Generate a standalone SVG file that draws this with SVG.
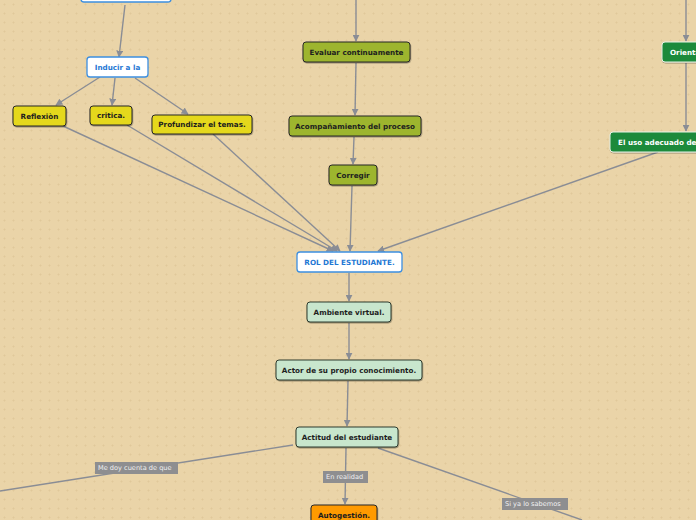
<svg xmlns="http://www.w3.org/2000/svg" width="696" height="520" viewBox="0 0 696 520">
<defs>
<pattern id="dots" width="9" height="9" patternUnits="userSpaceOnUse">
<rect width="9" height="9" fill="#ead4a8"/>
<rect x="4" y="3.5" width="1" height="2" fill="#e0c89a"/>
<rect x="3.5" y="4" width="2" height="1" fill="#e0c89a"/>
</pattern>
<marker id="arr" viewBox="0 0 10 10" refX="9" refY="5" markerWidth="7" markerHeight="7" markerUnits="userSpaceOnUse" orient="auto">
<path d="M0,0 L10,5 L0,10 z" fill="#8a8d95"/>
</marker>
<filter id="sh" x="-10%" y="-20%" width="120%" height="150%">
<feDropShadow dx="0.5" dy="1" stdDeviation="0.6" flood-color="#000" flood-opacity="0.35"/>
</filter>
</defs>
<style>
.c{fill:none;stroke:#8a8d95;stroke-width:1.4;marker-end:url(#arr)}
.cn{fill:none;stroke:#8a8d95;stroke-width:1.4}
.t{font-family:"DejaVu Sans",Verdana,sans-serif;font-weight:bold;font-size:7.2px;text-anchor:middle;dominant-baseline:central;fill:#1e1e1e}
.tb{fill:#1f78d4}
.tw{fill:#ffffff}
.wb{fill:#ffffff;stroke:#3d8fe0;stroke-width:1.3}
.yl{fill:#e5d81d;stroke:#262626;stroke-width:1;filter:url(#sh)}
.ol{fill:#9db52f;stroke:#262626;stroke-width:1;filter:url(#sh)}
.gr{fill:#1c8a3b;stroke:#e8f2e8;stroke-width:1;filter:url(#sh)}
.lg{fill:#c8e6cd;stroke:#2d3a2f;stroke-width:1;filter:url(#sh)}
.or{fill:#ff9a00;stroke:#262626;stroke-width:1;filter:url(#sh)}
.lb{fill:#8e8e90}
.lt{font-family:"DejaVu Sans",Verdana,sans-serif;font-size:6.6px;fill:#f0f0f0;dominant-baseline:central}
</style>
<rect width="696" height="520" fill="url(#dots)"/>
<g id="connectors">
<path class="c" d="M125,5 L119,57"/>
<path class="c" d="M100,77 L56,105"/>
<path class="c" d="M115,78 L112,105"/>
<path class="c" d="M135,78 L188,114"/>
<path class="c" d="M63,126 L333,251"/>
<path class="c" d="M127,125 L337,251"/>
<path class="c" d="M213,134 L340,251"/>
<path class="c" d="M356,0 L356,41"/>
<path class="c" d="M356,63 L355,115"/>
<path class="c" d="M354,137 L353,164"/>
<path class="c" d="M352,186 L350,251"/>
<path class="c" d="M686,0 L686,41"/>
<path class="c" d="M686,63 L686,131"/>
<path class="c" d="M658,152 L378,251"/>
<path class="c" d="M349,273 L349,301"/>
<path class="c" d="M349,323 L349,359"/>
<path class="c" d="M348,381 L347,426"/>
<path class="cn" d="M293,445 L0,491"/>
<path class="c" d="M346,448 L345,504"/>
<path class="cn" d="M378,448 L582,520"/>
<g id="lbl1"><rect class="lb" x="95" y="462" width="83" height="12"/><text class="lt" x="98" y="468">Me doy cuenta de que</text></g>
<g id="lbl2"><rect class="lb" x="323" y="471" width="45" height="12"/><text class="lt" x="326" y="477">En realidad</text></g>
<g id="lbl3"><rect class="lb" x="502" y="498" width="66" height="12"/><text class="lt" x="505" y="504">Si ya lo sabemos</text></g>
</g>
<g id="n-top"><rect class="wb" x="81" y="-18" width="90" height="20" rx="3"/></g>
<g id="n-inducir"><rect class="wb" x="87" y="57" width="61" height="20" rx="3"/><text class="t tb" x="117.5" y="67">Inducir a la</text></g>
<g id="n-reflexion"><rect class="yl" x="13" y="106" width="53" height="20" rx="3"/><text class="t" x="39.5" y="116">Reflexiòn</text></g>
<g id="n-critica"><rect class="yl" x="90" y="106" width="42" height="19" rx="3"/><text class="t" x="111" y="115.5">critica.</text></g>
<g id="n-profundizar"><rect class="yl" x="152" y="115" width="100" height="19" rx="3"/><text class="t" x="202" y="124.5">Profundizar el temas.</text></g>
<g id="n-evaluar"><rect class="ol" x="303" y="42" width="107" height="20" rx="3"/><text class="t" x="356.5" y="52">Evaluar continuamente</text></g>
<g id="n-acomp"><rect class="ol" x="289" y="116" width="132" height="20" rx="3"/><text class="t" x="355" y="126">Acompañamiento del proceso</text></g>
<g id="n-corregir"><rect class="ol" x="329" y="165" width="48" height="20" rx="3"/><text class="t" x="353" y="175">Corregir</text></g>
<g id="n-orienta"><rect class="gr" x="662" y="42" width="60" height="20" rx="3"/><text class="t tw" x="670" y="52" style="text-anchor:start">Orienta</text></g>
<g id="n-eluso"><rect class="gr" x="610" y="132" width="110" height="20" rx="3"/><text class="t tw" x="618" y="142" style="text-anchor:start">El uso adecuado de</text></g>
<g id="n-rol"><rect class="wb" x="297" y="252" width="105" height="20" rx="3"/><text class="t tb" x="349.5" y="262">ROL DEL ESTUDIANTE.</text></g>
<g id="n-ambiente"><rect class="lg" x="307" y="302" width="84" height="20" rx="3"/><text class="t" x="349" y="312">Ambiente virtual.</text></g>
<g id="n-actor"><rect class="lg" x="276" y="360" width="146" height="20" rx="3"/><text class="t" x="349" y="370">Actor de su propio conocimiento.</text></g>
<g id="n-actitud"><rect class="lg" x="296" y="427" width="102" height="20" rx="3"/><text class="t" x="347" y="437">Actitud del estudiante</text></g>
<g id="n-autogestion"><rect class="or" x="311" y="505" width="66" height="22" rx="3"/><text class="t" x="344" y="515">Autogestión.</text></g>
</svg>
